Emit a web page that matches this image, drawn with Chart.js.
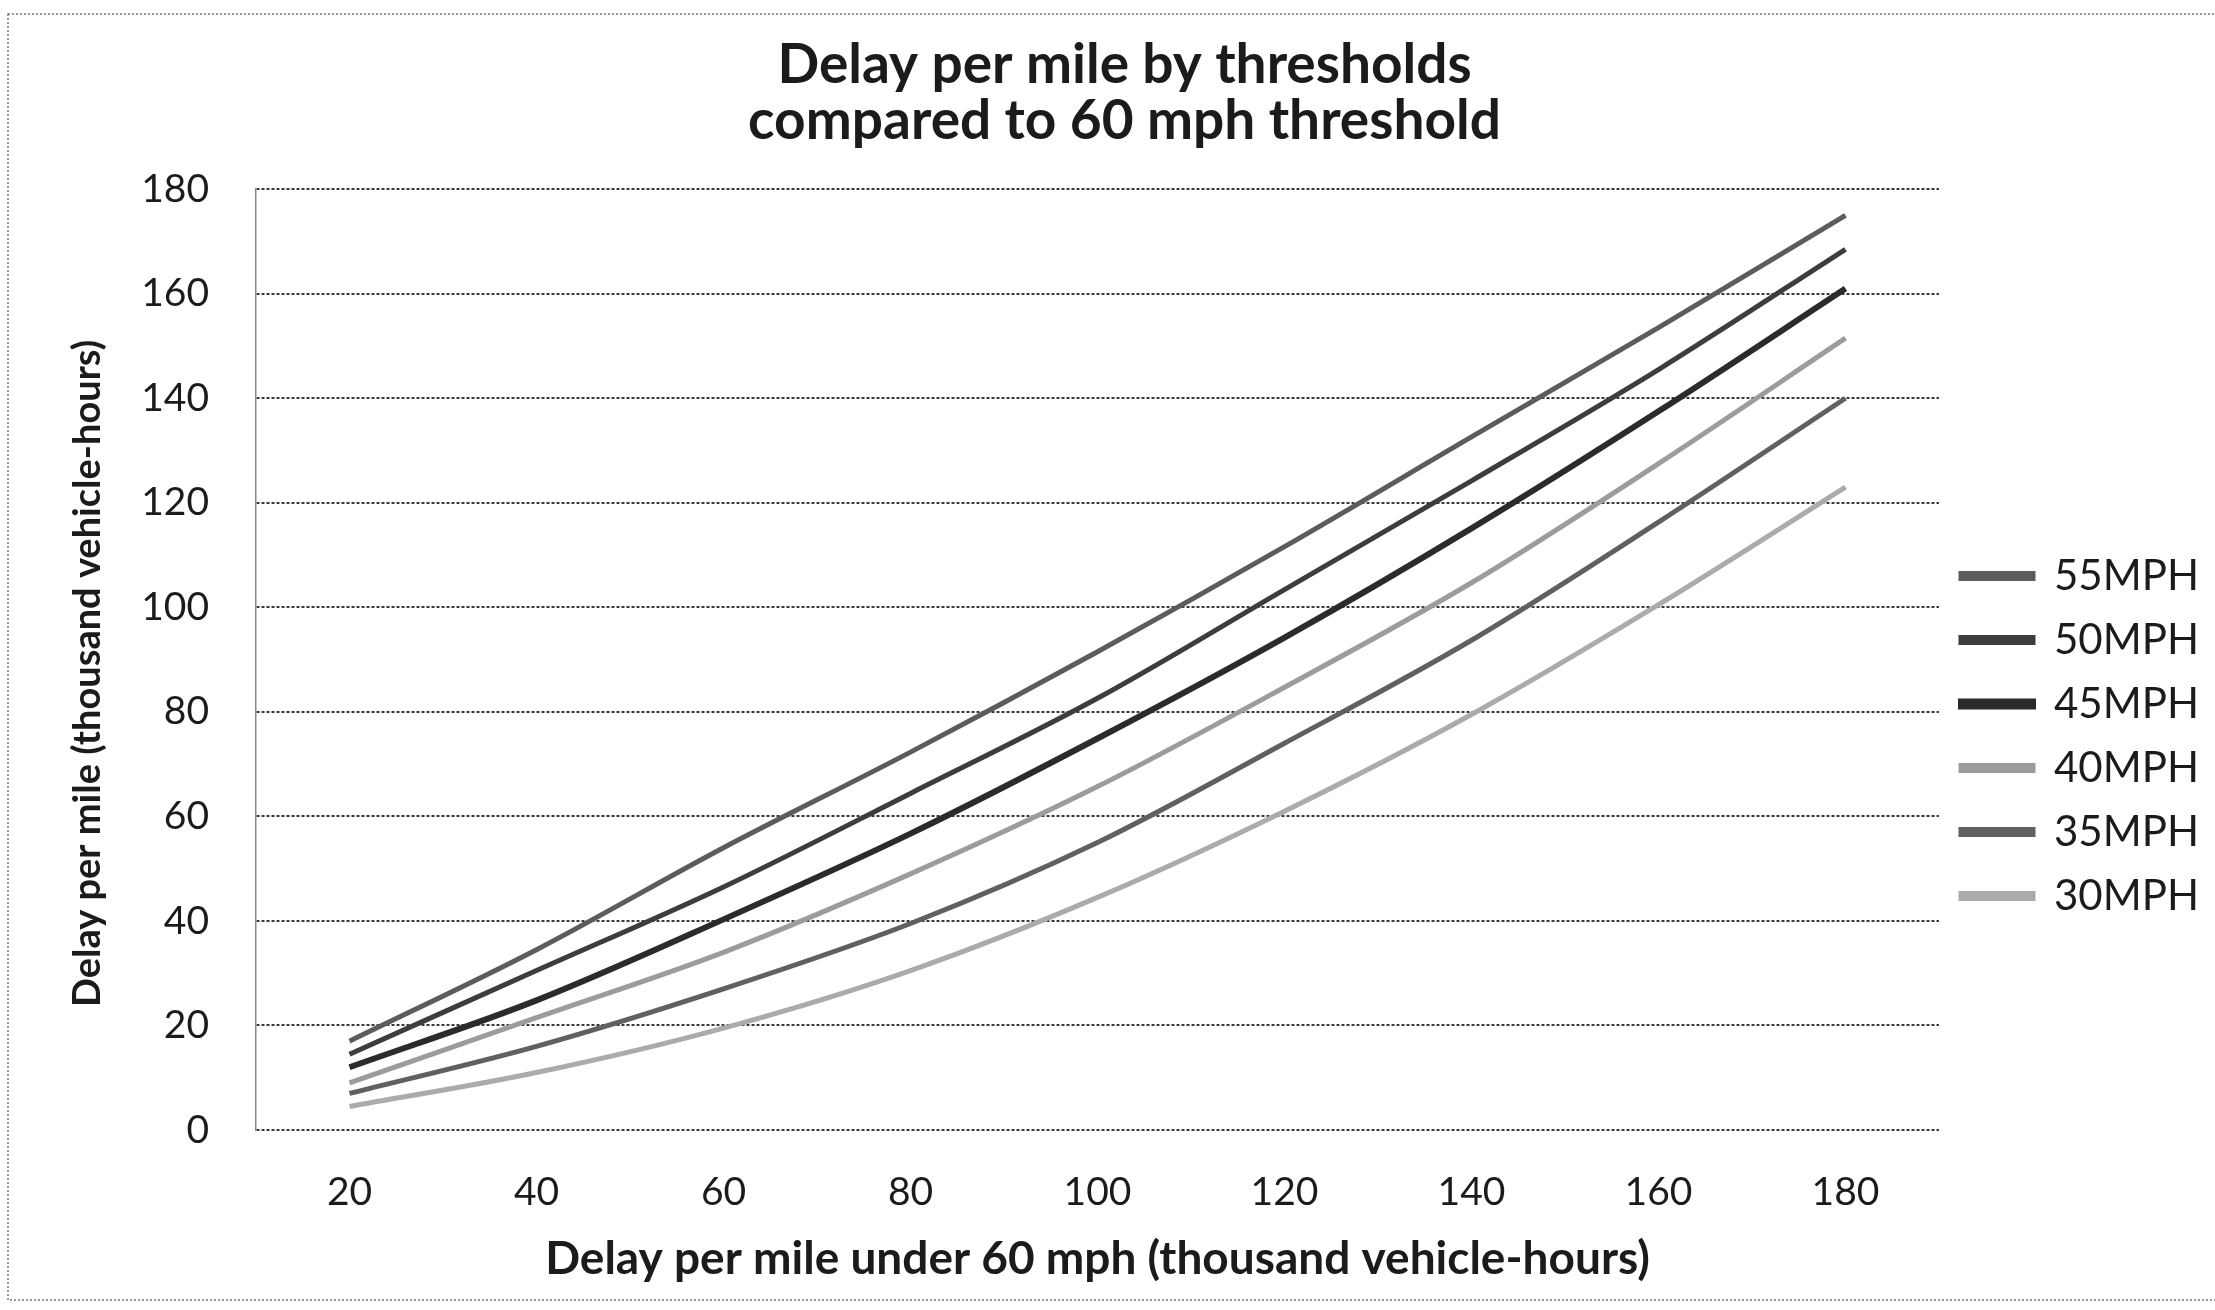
<!DOCTYPE html>
<html>
<head>
<meta charset="utf-8">
<script src="https://cdn.jsdelivr.net/npm/chart.js@4/dist/chart.umd.min.js"></script>
<style>
  body { margin: 0; background: #fff; }
  #wrap { width: 2215px; height: 1310px; position: relative; }
</style>
</head>
<body>
<div id="wrap"><canvas id="delayChart"></canvas></div>
<script>
// values (thousand vehicle-hours)
const categories = ['20', '40', '60', '80', '100', '120', '140', '160', '180'];
const mph55 = [17, 34.5, 54, 72.3, 91.5, 111.6, 132.6, 153.5, 175];
const mph50 = [14.5, 30.5, 46.5, 64.4, 82.6, 103.4, 124.2, 145.5, 168.5];
const mph45 = [12, 24.8, 40.3, 56.7, 74.9, 94.2, 115.1, 137.5, 161];
const mph40 = [9, 21.5, 34, 49, 65.7, 84.7, 104.7, 127.5, 151.5];
const mph35 = [7, 16, 27, 39.5, 55, 74, 93.7, 116.3, 140];
const mph30 = [4.5, 11, 19.5, 30.5, 44.5, 61, 79.5, 100.5, 123];
const yTicks = [0, 20, 40, 60, 80, 100, 120, 140, 160, 180];

const FONT = 'Lato, "Open Sans", sans-serif';
const INK = '#1b1b1b';

function series(label, data, color, width) {
  return {
    label: label,
    data: data,
    borderColor: color,
    backgroundColor: color,
    borderWidth: width,
    pointRadius: 0,
    cubicInterpolationMode: 'monotone',
    fill: false
  };
}

// thin dotted frame around the whole picture, like the scan
const frame = {
  id: 'frame',
  beforeDraw(chart) {
    const ctx = chart.ctx;
    ctx.save();
    ctx.strokeStyle = '#777';
    ctx.lineWidth = 1.5;
    ctx.setLineDash([2, 2]);
    ctx.strokeRect(8, 14, 2215, 1286);
    ctx.restore();
  }
};

const ctx = document.getElementById('delayChart').getContext('2d');
new Chart(ctx, {
  type: 'line',
  data: {
    labels: categories,
    datasets: [
      series('55MPH', mph55, '#5c5c5c', 5),
      series('50MPH', mph50, '#3d3d3d', 5),
      series('45MPH', mph45, '#2b2b2b', 6),
      series('40MPH', mph40, '#9c9c9c', 5),
      series('35MPH', mph35, '#606060', 5),
      series('30MPH', mph30, '#ababab', 5)
    ]
  },
  options: {
    responsive: true,
    maintainAspectRatio: false,
    animation: false,
    layout: { padding: { left: 40, right: 6, top: 14, bottom: 10 } },
    plugins: {
      title: {
        display: true,
        text: ['Delay per mile by thresholds', 'compared to 60 mph threshold'],
        color: INK,
        font: { family: FONT, size: 55, weight: 'bold', lineHeight: 1.02 },
        padding: { top: 23, bottom: 40 }
      },
      legend: {
        position: 'right',
        fullSize: false,
        align: 'center',
        title: { display: true, text: '', font: { size: 10 }, padding: { top: 141, bottom: 0 } },
        labels: {
          boxWidth: 72,
          boxHeight: 5,
          padding: 22,
          color: INK,
          font: { family: FONT, size: 42 }
        }
      },
      tooltip: { enabled: false }
    },
    scales: {
      x: {
        type: 'category',
        offset: true,
        grid: { display: false, drawTicks: false },
        border: { display: false },
        ticks: { color: INK, padding: 39, font: { family: FONT, size: 39 } },
        title: {
          display: true,
          text: 'Delay per mile under 60 mph (thousand vehicle-hours)',
          color: INK,
          font: { family: FONT, size: 46, weight: 'bold' },
          padding: { top: 10, bottom: 13 }
        },
        afterFit(scale) { scale.height = 170; }
      },
      y: {
        min: 0,
        max: 180,
        afterBuildTicks(scale) { scale.ticks = yTicks.map(v => ({ value: v })); },
        grid: { color: '#3a3a3a', lineWidth: 2, drawTicks: false },
        border: { display: true, color: '#888', width: 1.5, dash: [3, 2] },
        ticks: { color: INK, padding: 47, font: { family: FONT, size: 39 } },
        title: {
          display: true,
          // trailing spaces nudge the rotated label down, as in the original
          text: 'Delay per mile (thousand vehicle-hours)   ',
          color: INK,
          font: { family: FONT, size: 38, weight: 'bold' },
          padding: { top: 25, bottom: 10 }
        },
        afterFit(scale) { scale.width = 216; }
      }
    }
  },
  plugins: [frame]
});
</script>
</body>
</html>
